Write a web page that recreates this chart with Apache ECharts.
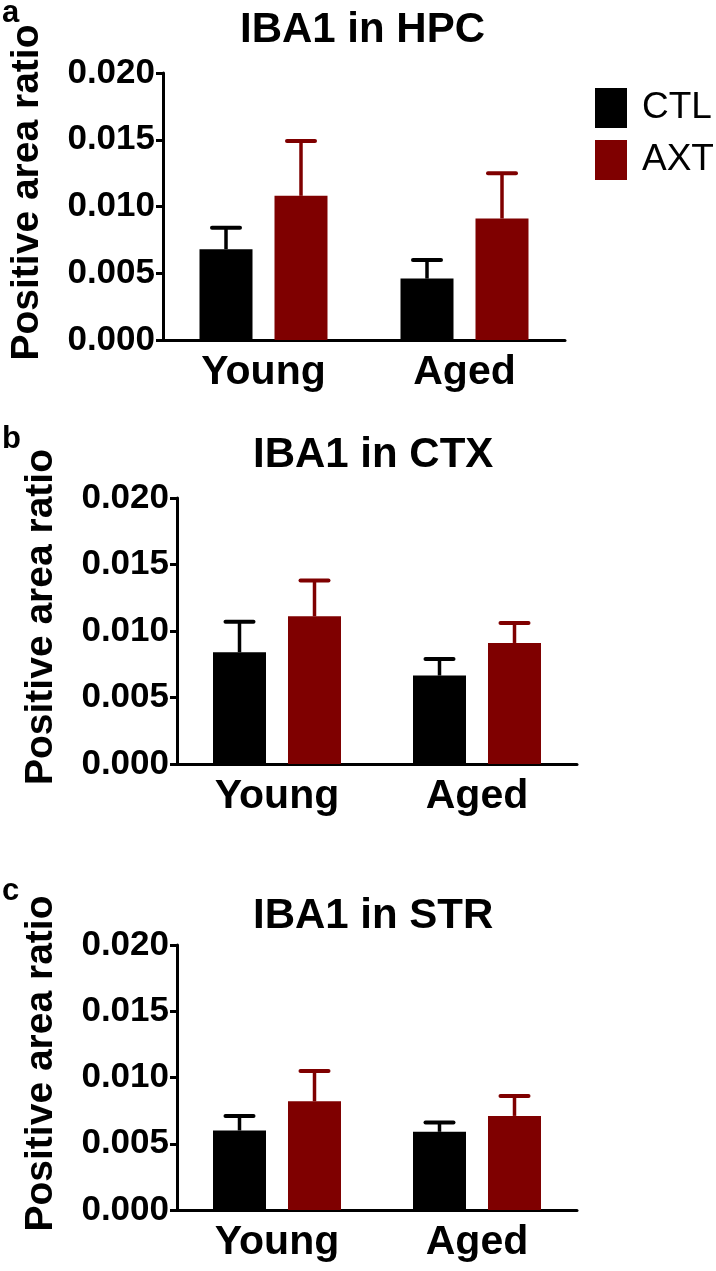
<!DOCTYPE html>
<html>
<head>
<meta charset="utf-8">
<script src="https://cdn.jsdelivr.net/npm/echarts@6/dist/echarts.min.js"></script>
<style>
html,body{margin:0;padding:0;background:#fff;}
#chart{width:716px;height:1271px;}
</style>
</head>
<body>
<div id="chart"></div>
<script>
// ---- data ----
var categories = ['Young', 'Aged'];
var groupNames = ['CTL', 'AXT'];
var panelTitles = ['IBA1 in HPC', 'IBA1 in CTX', 'IBA1 in STR'];
var panelLetters = ['a', 'b', 'c'];
var yTicks = [0, 0.005, 0.010, 0.015, 0.020];

var hpcCtl = [0.0068, 0.0046];
var hpcCtlErr = [0.0016, 0.0014];
var hpcAxt = [0.0108, 0.0091];
var hpcAxtErr = [0.0041, 0.0034];

var ctxCtl = [0.0084, 0.00665];
var ctxCtlErr = [0.0023, 0.00125];
var ctxAxt = [0.0111, 0.0091];
var ctxAxtErr = [0.0027, 0.0015];

var strCtl = [0.0060, 0.0059];
var strCtlErr = [0.0011, 0.0007];
var strAxt = [0.0082, 0.0071];
var strAxtErr = [0.0023, 0.0015];

var panels = [
  {ctl: hpcCtl, ctlErr: hpcCtlErr, axt: hpcAxt, axtErr: hpcAxtErr},
  {ctl: ctxCtl, ctlErr: ctxCtlErr, axt: ctxAxt, axtErr: ctxAxtErr},
  {ctl: strCtl, ctlErr: strCtlErr, axt: strAxt, axtErr: strAxtErr}
];

// ---- style ----
var FONT = 'Liberation Sans, Arial, sans-serif';
var COLORS = ['#000000', '#7f0000'];
var BAR_W = 53;
var BAR_GAP = 22;
var CAP_W = 28;

var grids = [
  {left: 163, top: 73, width: 402, height: 267},
  {left: 177, top: 498, width: 400, height: 266},
  {left: 177, top: 945, width: 400, height: 265}
];
var titlePos = [
  {left: 240, top: 9},
  {left: 253, top: 434},
  {left: 253, top: 895}
];
var letterPos = [{left: 2, top: -2}, {left: 2, top: 424}, {left: 2, top: 876}];

function errRender(sign, color) {
  return function (params, api) {
    var ci = api.value(0), mean = api.value(1), err = api.value(2);
    var p0 = api.coord([ci, mean]);
    var p1 = api.coord([ci, mean + err]);
    var cx = p0[0] + sign * (BAR_W + BAR_GAP) / 2;
    return {
      type: 'group',
      children: [
        {type: 'line', shape: {x1: cx, y1: p0[1], x2: cx, y2: p1[1]},
         style: {stroke: color, lineWidth: 3.5}},
        {type: 'line', shape: {x1: cx - CAP_W / 2, y1: p1[1], x2: cx + CAP_W / 2, y2: p1[1]},
         style: {stroke: color, lineWidth: 4, lineCap: 'round'}}
      ]
    };
  };
}

var option = {
  backgroundColor: '#ffffff',
  animation: false,
  title: [],
  grid: [],
  xAxis: [],
  yAxis: [],
  series: [],
  legend: {
    data: groupNames.map(function (n) { return {name: n, icon: 'rect'}; }),
    orient: 'vertical',
    left: 590,
    top: 83,
    itemWidth: 32,
    itemHeight: 40,
    itemGap: 12,
    textStyle: {fontFamily: FONT, fontSize: 37, color: '#000', padding: [0, 0, 0, 10]}
  }
};

panels.forEach(function (p, i) {
  option.title.push({
    text: panelTitles[i], left: titlePos[i].left, top: titlePos[i].top, padding: 0,
    textStyle: {fontFamily: FONT, fontWeight: 'bold', fontSize: 42, color: '#000'}
  });
  option.title.push({
    text: panelLetters[i], left: letterPos[i].left, top: letterPos[i].top, padding: 0,
    textStyle: {fontFamily: FONT, fontWeight: 'bold', fontSize: 31, color: '#000'}
  });
  option.grid.push(grids[i]);
  option.xAxis.push({
    type: 'category', gridIndex: i, data: categories,
    axisLine: {lineStyle: {color: '#000', width: 3}},
    axisTick: {alignWithLabel: true, length: 7, lineStyle: {color: '#000', width: 3}},
    axisLabel: {fontFamily: FONT, fontWeight: 'bold', fontSize: 41, color: '#000', margin: 12}
  });
  option.yAxis.push({
    type: 'value', gridIndex: i, min: yTicks[0], max: yTicks[yTicks.length - 1],
    interval: yTicks[1] - yTicks[0],
    name: 'Positive area ratio', nameLocation: 'middle', nameGap: 116,
    nameTextStyle: {fontFamily: FONT, fontWeight: 'bold', fontSize: 39, color: '#000', padding: [0, 0, 0, 28]},
    splitLine: {show: false},
    axisLine: {show: true, lineStyle: {color: '#000', width: 3}},
    axisTick: {show: true, length: 7, lineStyle: {color: '#000', width: 3}},
    axisLabel: {fontFamily: FONT, fontWeight: 'bold', fontSize: 35, color: '#000', margin: 8,
      formatter: function (v) { return v.toFixed(3); }}
  });
  var groups = [[p.ctl, p.ctlErr], [p.axt, p.axtErr]];
  groups.forEach(function (g, k) {
    option.series.push({
      type: 'bar', name: groupNames[k], xAxisIndex: i, yAxisIndex: i,
      data: g[0], barWidth: BAR_W, barGap: (BAR_GAP / BAR_W * 100).toFixed(1) + '%',
      itemStyle: {color: COLORS[k]}
    });
  });
  groups.forEach(function (g, k) {
    option.series.push({
      type: 'custom', name: groupNames[k] + ' SD', xAxisIndex: i, yAxisIndex: i,
      renderItem: errRender(k === 0 ? -1 : 1, COLORS[k]),
      encode: {x: 0, y: 1}, z: 5,
      data: categories.map(function (c, j) { return [j, g[0][j], g[1][j]]; })
    });
  });
});

var chart = echarts.init(document.getElementById('chart'), null, {renderer: 'canvas'});
chart.setOption(option);
</script>
</body>
</html>
